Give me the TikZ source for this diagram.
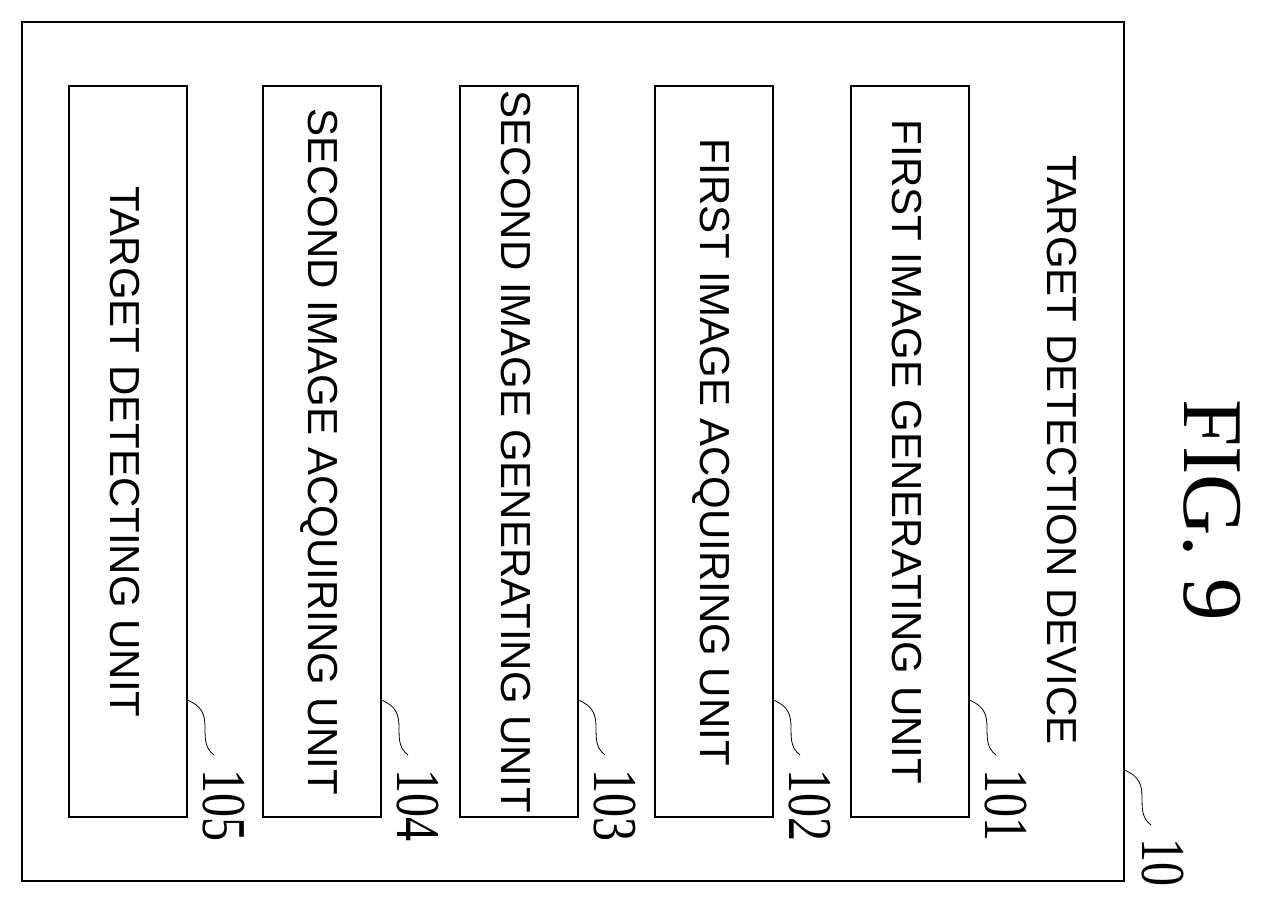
\documentclass[tikz,border=0pt]{standalone}
\usepackage{fontspec}
\setmainfont{Liberation Sans}
\newfontfamily\serifnum{Liberation Serif}
\begin{document}
\begin{tikzpicture}[x=1pt,y=-1pt,
  box/.style={draw,line width=1.5pt},
  lab/.style={rotate=-90,font=\fontsize{42}{42}\selectfont,inner sep=0},
  num/.style={rotate=-90,font=\serifnum\fontsize{48}{48}\selectfont,inner sep=0},
  sq/.style={line width=0.8pt}]
\useasboundingbox (0,0) rectangle (1272,909);
\draw[box] (22,22) rectangle (1124,881);
\node[lab] (t) at (1062,450) {TARGET DETECTION DEVICE};
\node[rotate=-90,font=\serifnum\fontsize{85}{85}\selectfont,inner sep=0] (fig) at (1212,510) {FIG. 9};
\foreach \n/\x/\t in {101/851/FIRST IMAGE GENERATING UNIT,102/655/FIRST IMAGE ACQUIRING UNIT,103/460/SECOND IMAGE GENERATING UNIT,104/263/SECOND IMAGE ACQUIRING UNIT,105/69/TARGET DETECTING UNIT}{
  \draw[box] (\x,86) rectangle ++(118,731);
  \node[lab] (u\n) at (\x+56,452) {\t};
  \coordinate (s\n) at (\x+118,700);
  \coordinate (e\n) at (\x+145,755);
  \draw[sq] (s\n) .. controls (\x+150,712) and (\x+125,740) .. (e\n);
  \node[num] (n\n) at (\x+155,805) {\scalebox{1}[1.3]{\n}};
}
\coordinate (s10) at (1124,770);
\coordinate (e10) at (1151,825);
\draw[sq] (s10) .. controls (1156,782) and (1131,810) .. (e10);
\node[num] (n10) at (1163,862) {\scalebox{1}[1.3]{10}};
\end{tikzpicture}
\end{document}
